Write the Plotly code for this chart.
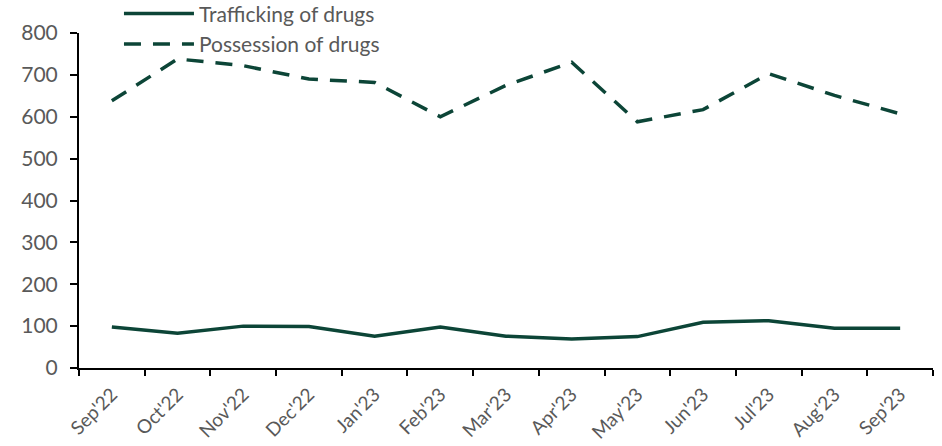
import plotly.graph_objects as go

months = ["Sep'22", "Oct'22", "Nov'22", "Dec'22", "Jan'23", "Feb'23", "Mar'23",
          "Apr'23", "May'23", "Jun'23", "Jul'23", "Aug'23", "Sep'23"]
trafficking = [98, 83, 100, 99, 76, 98, 76, 69, 75, 109, 113, 95, 95]
possession = [638, 738, 722, 690, 682, 600, 675, 730, 588, 617, 703, 651, 607]
y_ticks = [0, 100, 200, 300, 400, 500, 600, 700, 800]

GREEN = "#0c4537"
GRAY = "#595959"
FONT = "Lato"

fig = go.Figure()
fig.add_trace(go.Scatter(x=months, y=trafficking, mode="lines", name="Trafficking of drugs",
                         line=dict(color=GREEN, width=3.5)))
fig.add_trace(go.Scatter(x=months, y=possession, mode="lines", name="Possession of drugs",
                         line=dict(color=GREEN, width=3.5, dash="17px,12px")))

fig.update_layout(
    width=942, height=446,
    margin=dict(l=79, r=9, t=33, b=78, autoexpand=False),
    plot_bgcolor="white", paper_bgcolor="white",
    font=dict(family=FONT, size=20, color=GRAY),
    showlegend=True,
    legend=dict(x=0.0468, y=1.118, xanchor="left", yanchor="top",
                bgcolor="rgba(0,0,0,0)", itemwidth=70,
                font=dict(family=FONT, size=21, color=GRAY),
                tracegroupgap=0),
    xaxis=dict(type="category", range=[-0.5, 12.5], tickson="boundaries",
               showline=True, linecolor="black", linewidth=2,
               ticks="outside", ticklen=6, tickwidth=2, tickcolor="black",
               tickangle=-45, showgrid=False, zeroline=False, ticklabelstandoff=6,
               tickfont=dict(family=FONT, size=19, color=GRAY)),
    yaxis=dict(range=[0, 800], tickvals=y_ticks, showline=True, linecolor="black",
               linewidth=2, ticks="outside", ticklen=7, tickwidth=2, tickcolor="black",
               showgrid=False, zeroline=False, ticklabelstandoff=8,
               tickfont=dict(family=FONT, size=21, color=GRAY)),
)

fig.write_html("out.html", config={"displayModeBar": False},
               post_script="document.body.style.margin='0';document.body.style.overflow='hidden';")
